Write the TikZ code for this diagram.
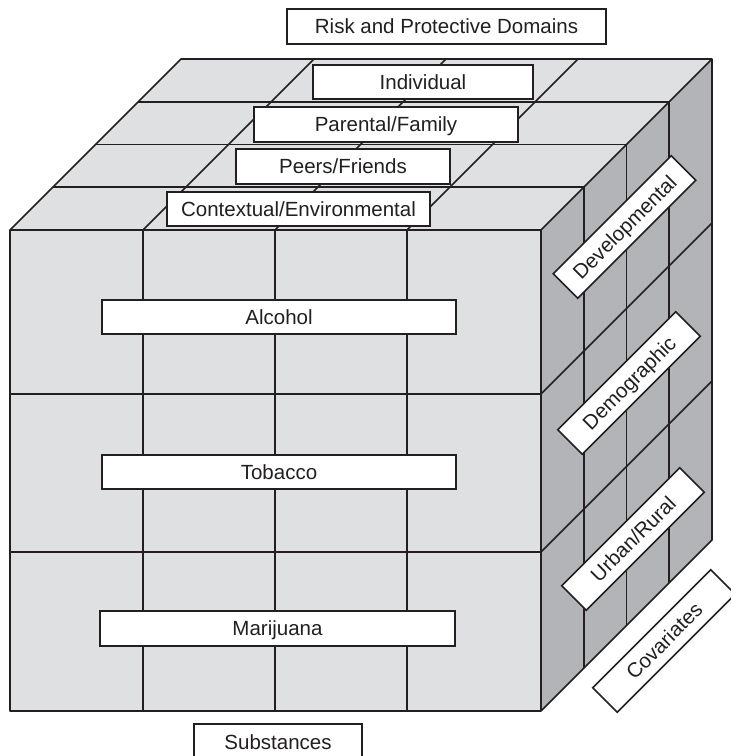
\documentclass[tikz,border=0pt]{standalone}
\usepackage{fontspec}
\setmainfont{Liberation Sans}

\definecolor{FaceLight}{HTML}{DFE0E2}
\definecolor{FaceDark}{HTML}{B3B4B8}
\definecolor{InkColor}{HTML}{231F20}

\begin{document}
\begin{tikzpicture}[x=1pt,y=-1pt]

\tikzset{
  LabelStyle/.style = { rectangle, draw = InkColor, fill = white,
                       line width = 1.6pt, inner sep = 0pt,
                       minimum height = 34.5pt, text = InkColor,
                       text height = 14.7pt, text depth = 0pt,
                       font = \fontsize{20.5}{24}\selectfont },
  SideStyle/.style = { LabelStyle, rotate = 45, minimum width = 167pt },
  GridStyle/.style = { draw = InkColor, line width = 1.6pt } }

  \useasboundingbox (0,0) rectangle (731,756);

  % corners of the cube
  \coordinate (ftl) at (10, 230);
  \coordinate (ftr) at (541, 230);
  \coordinate (fbl) at (10, 711);
  \coordinate (fbr) at (541, 711);
  \coordinate (btl) at (181, 59);
  \coordinate (btr) at (712, 59);
  \coordinate (bbr) at (712, 540);

  % faces
  \fill[FaceLight] (ftl) rectangle (fbr);
  \fill[FaceLight] (ftl) -- (ftr) -- (btr) -- (btl) -- cycle;
  \fill[FaceDark] (ftr) -- (btr) -- (bbr) -- (fbr) -- cycle;

  % top face
  \draw[GridStyle] (52.75, 187.25) -- (583.75, 187.25);
  \draw[GridStyle] (95.5, 144.5) -- (626.5, 144.5);
  \draw[GridStyle] (138.25, 101.75) -- (669.25, 101.75);
  \draw[GridStyle] (143, 230) -- (314, 59);
  \draw[GridStyle] (275, 230) -- (446, 59);
  \draw[GridStyle] (407, 230) -- (578, 59);

  % front face
  \draw[GridStyle] (143, 230) -- (143, 711);
  \draw[GridStyle] (275, 230) -- (275, 711);
  \draw[GridStyle] (407, 230) -- (407, 711);
  \draw[GridStyle] (10, 394) -- (541, 394);
  \draw[GridStyle] (10, 552) -- (541, 552);

  % side face
  \draw[GridStyle] (583.75, 187.25) -- (583.75, 668.25);
  \draw[GridStyle] (626.5, 144.5) -- (626.5, 625.5);
  \draw[GridStyle] (669.25, 101.75) -- (669.25, 582.75);
  \draw[GridStyle] (541, 394) -- (712, 223);
  \draw[GridStyle] (541, 552) -- (712, 381);

  % outline
  \draw[GridStyle, line join = round] (ftl) -- (btl) -- (btr) -- (bbr)
    -- (fbr) -- (fbl) -- cycle;
  \draw[GridStyle] (ftl) -- (ftr) -- (fbr);
  \draw[GridStyle] (ftr) -- (btr);

  % domains
  \node[LabelStyle, minimum width = 319pt] (risk) at (446.5, 26.5)
    {Risk and Protective Domains};
  \node[LabelStyle, minimum width = 220pt] (individual) at (423, 82)
    {Individual};
  \node[LabelStyle, minimum width = 264pt] (parental) at (386, 124.5)
    {Parental/Family};
  \node[LabelStyle, minimum width = 214pt] (peers) at (343, 166.5)
    {Peers/Friends};
  \node[LabelStyle, minimum width = 263pt] (contextual) at (298.5, 209)
    {Contextual/Environmental};

  % substances
  \node[LabelStyle, minimum width = 354pt] (alcohol) at (279, 317) {Alcohol};
  \node[LabelStyle, minimum width = 354pt] (tobacco) at (279, 472) {Tobacco};
  \node[LabelStyle, minimum width = 355pt] (marijuana) at (277.5, 628.5)
    {Marijuana};
  \node[LabelStyle, minimum width = 168pt, minimum height = 36pt]
    (substances) at (278, 742) {Substances};

  % covariates
  \node[SideStyle] (developmental) at (624.5, 227) {Developmental};
  \node[SideStyle] (demographic) at (629, 383) {Demographic};
  \node[SideStyle] (urbanrural) at (633, 539) {Urban/Rural};
  \node[SideStyle] (covariates) at (664, 641) {Covariates};

\end{tikzpicture}
\end{document}
